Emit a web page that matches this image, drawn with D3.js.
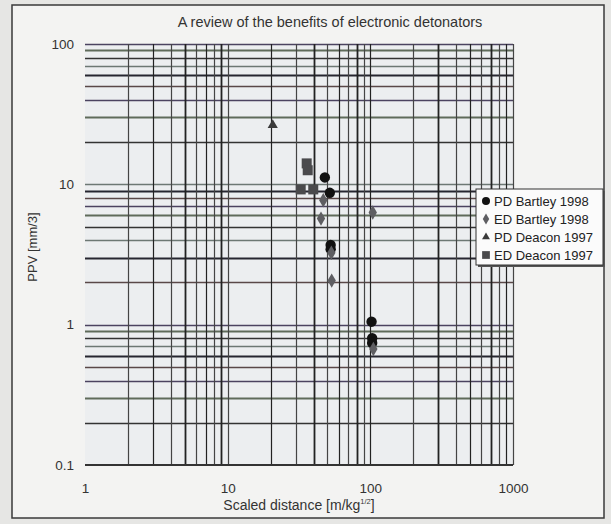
<!DOCTYPE html>
<html>
<head>
<meta charset="utf-8">
<script src="https://cdn.jsdelivr.net/npm/d3@7"></script>
<style>
  body { margin: 0; background: #e6e6e4; }
  svg { display: block; font-family: "Liberation Sans", Arial, sans-serif; }
</style>
</head>
<body>
<script>
// chart values
var xTicks = [1, 10, 100, 1000];
var yTicks = [0.1, 1, 10, 100];
var seriesNames = ["PD Bartley 1998", "ED Bartley 1998", "PD Deacon 1997", "ED Deacon 1997"];

var pdBartleyX = [48, 52, 52.7, 52.7, 102, 103, 103];
var pdBartleyY = [11.2, 8.7, 3.7, 3.45, 1.05, 0.8, 0.74];
var edBartleyX = [46.8, 45.1, 53.3, 53.6, 104, 105];
var edBartleyY = [7.7, 5.7, 3.25, 2.06, 6.3, 0.67];
var pdDeaconX = [20.7];
var pdDeaconY = [26.4];
var edDeaconX = [35.8, 36.4, 32.5, 39.8];
var edDeaconY = [14.1, 12.6, 9.2, 9.2];

function init(){
    var w = 611, h = 524;
    var left = 85, right = 513, top = 44, bottom = 465;

    var svg = d3.select("body").append("svg")
                .attr("width", w)
                .attr("height", h);

    // scanned page frame
    svg.append("rect")
       .attr("x", 12).attr("y", 5)
       .attr("width", 592).attr("height", 513)
       .attr("fill", "#f3f3f2")
       .attr("stroke", "#3a3a3a")
       .attr("stroke-width", 1.5);

    var x = d3.scaleLog().domain([1, 1000]).range([left, right]);
    var y = d3.scaleLog().domain([0.1, 100]).range([bottom, top]);

    svg.append("rect")
       .attr("x", left).attr("y", top)
       .attr("width", right - left).attr("height", bottom - top)
       .attr("fill", "#eceef0");

    // log grid, every 1..9 of each decade
    var hColors = ["#333", "#5f6b5a", "#4b4360", "#5a4848", "#262630", "#6d7874"];
    var yGrid = y.ticks().filter(function(v){ return v > 0.1 + 1e-9; });
    svg.append("g").selectAll("line")
       .data(yGrid).enter().append("line")
       .attr("x1", left).attr("x2", right)
       .attr("y1", function(d){ return Math.round(y(d)) + 0.5; })
       .attr("y2", function(d){ return Math.round(y(d)) + 0.5; })
       .attr("stroke", function(d, i){ return hColors[i % hColors.length]; })
       .attr("stroke-width", function(d, i){ return i % 3 == 1 ? 1.8 : 1.3; });

    var xGrid = x.ticks().filter(function(v){ return v > 1 + 1e-9; });
    svg.append("g").selectAll("line")
       .data(xGrid).enter().append("line")
       .attr("y1", top).attr("y2", bottom)
       .attr("x1", function(d){ return Math.round(x(d)) + 0.5; })
       .attr("x2", function(d){ return Math.round(x(d)) + 0.5; })
       .attr("stroke", function(d, i){ return i % 2 ? "#222" : "#444"; })
       .attr("stroke-width", function(d, i){ return i % 4 == 3 ? 1.8 : 1.2; });

    // bottom edge
    svg.append("line").attr("x1", left).attr("x2", right)
       .attr("y1", y(0.1)).attr("y2", y(0.1))
       .attr("stroke", "#333").attr("stroke-width", 1.8);

    // axes, labels only
    var xAxis = svg.append("g")
       .attr("transform", "translate(0," + (bottom + 15) + ")")
       .call(d3.axisBottom(x).tickValues(xTicks).tickFormat(d3.format("d")).tickSize(0));
    xAxis.select(".domain").remove();
    xAxis.selectAll("text").attr("font-size", 13.5).attr("fill", "#333")
         .attr("font-family", "Liberation Sans, Arial, sans-serif");

    var yAxis = svg.append("g")
       .attr("transform", "translate(" + (left - 8) + ",0)")
       .call(d3.axisLeft(y).tickValues(yTicks).tickFormat(function(d){ return d < 1 ? "0.1" : d3.format("d")(d); }).tickSize(0));
    yAxis.select(".domain").remove();
    yAxis.selectAll("text").attr("font-size", 13.5).attr("fill", "#333")
         .attr("font-family", "Liberation Sans, Arial, sans-serif");

    svg.append("text")
       .attr("x", 330).attr("y", 27)
       .attr("text-anchor", "middle")
       .attr("font-size", 14.5).attr("fill", "#333")
       .text("A review of the benefits of electronic detonators");

    var xt = svg.append("text")
       .attr("x", 299).attr("y", 510)
       .attr("text-anchor", "middle")
       .attr("font-size", 14).attr("fill", "#333")
       .text("Scaled distance [m/kg");
    xt.append("tspan").attr("font-size", 7.5).attr("dy", -6).text("1/2");
    xt.append("tspan").attr("dy", 6).text("]");

    svg.append("text")
       .attr("transform", "translate(37,247) rotate(-90)")
       .attr("text-anchor", "middle")
       .attr("font-size", 13).attr("fill", "#333")
       .text("PPV [mm/3]");

    // series
    var series = [
        {xs: pdBartleyX, ys: pdBartleyY, shape: d3.symbolCircle, size: 85, color: "#111"},
        {xs: edBartleyX, ys: edBartleyY, shape: d3.symbolDiamond, size: 60, color: "#5e5e62"},
        {xs: pdDeaconX, ys: pdDeaconY, shape: d3.symbolTriangle, size: 45, color: "#3a3a3a"},
        {xs: edDeaconX, ys: edDeaconY, shape: d3.symbolSquare, size: 100, color: "#4a4a4c"}
    ];
    var drawOrder = [3, 2, 0, 1];
    drawOrder.forEach(function(k){
        var s = series[k];
        svg.append("g").selectAll("path")
           .data(s.xs).enter().append("path")
           .attr("transform", function(d, i){ return "translate(" + x(d) + "," + y(s.ys[i]) + ")"; })
           .attr("d", d3.symbol().type(s.shape).size(s.size))
           .attr("fill", s.color);
    });

    // legend
    var lg = svg.append("g").attr("transform", "translate(476,189)");
    lg.append("rect").attr("x", 2).attr("y", 2).attr("width", 127).attr("height", 76).attr("fill", "#555");
    lg.append("rect").attr("width", 127).attr("height", 76)
      .attr("fill", "#fbfbfb").attr("stroke", "#333").attr("stroke-width", 1);
    seriesNames.forEach(function(name, i){
        var s = series[i];
        var yy = 12 + i * 18;
        lg.append("path")
          .attr("transform", "translate(10," + yy + ")")
          .attr("d", d3.symbol().type(s.shape).size(s.size * 0.6))
          .attr("fill", s.color);
        lg.append("text")
          .attr("x", 18).attr("y", yy + 5)
          .attr("font-size", 13).attr("fill", "#222")
          .text(name);
    });
}
window.onload = init;
</script>
</body>
</html>
